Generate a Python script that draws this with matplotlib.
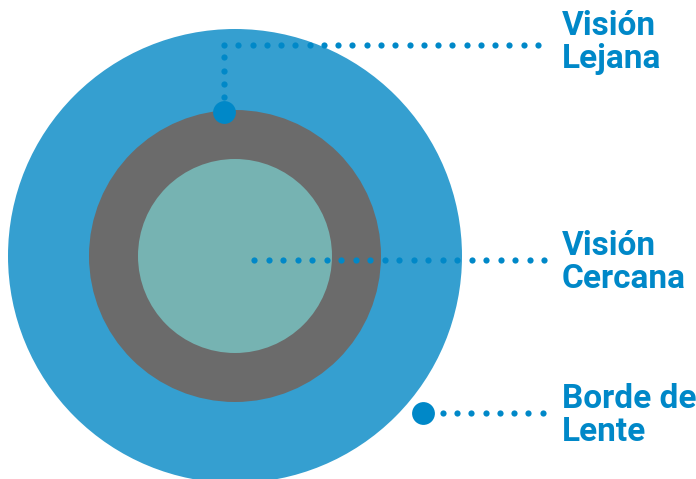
import matplotlib.pyplot as plt
from matplotlib.patches import Circle
import numpy as np

# lens zones (outer -> inner), radius in px
zone_names = ['Borde de Lente', 'Anillo', 'Centro']
zone_radii = [227, 146, 97]
zone_colors = ['#359fd0', '#6b6b6b', '#76b3b2']

labels = ['Visión\nLejana', 'Visión\nCercana', 'Borde de\nLente']
label_y = [10, 230, 383]

dot_color = '#0088c8'
cx, cy = 235, 256

fig = plt.figure(figsize=(6.96, 4.79), dpi=100)
ax = fig.add_axes([0, 0, 1, 1])
ax.set_xlim(0, 696)
ax.set_ylim(479, 0)
ax.set_aspect('equal')
ax.axis('off')

for r, c in zip(zone_radii, zone_colors):
    ax.add_patch(Circle((cx, cy), r, color=c, lw=0))

small = dict(s=20, color=dot_color, lw=0, zorder=3)
big = dict(s=270, color=dot_color, lw=0, zorder=4)

# Visión Lejana: vertical + horizontal dotted leader
hx = np.linspace(224, 538, 23)
ax.scatter(hx, np.full_like(hx, 44.7), **small)
vy = np.linspace(44.7 + 12.7, 97, 4)
ax.scatter(np.full_like(vy, 224), vy, **small)
ax.scatter([224], [112], **big)

# Visión Cercana
mx = np.linspace(254.3, 544.3, 21)
ax.scatter(mx, np.full_like(mx, 260), **small)

# Borde de Lente
bx = np.linspace(442.7, 542.7, 8)
ax.scatter(bx, np.full_like(bx, 413), **small)
ax.scatter([423], [413], **big)

for txt, y in zip(labels, label_y):
    ax.text(562, y, txt, color=dot_color, fontsize=24, fontweight='bold',
            family=['Roboto', 'DejaVu Sans'], va='top', ha='left', linespacing=1.05)

fig.savefig('out.png', dpi=100)
